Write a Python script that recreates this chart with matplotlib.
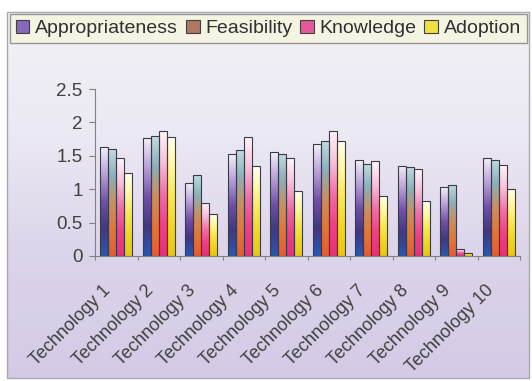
import numpy as np
import matplotlib.pyplot as plt
from matplotlib.colors import LinearSegmentedColormap
from matplotlib.patches import Rectangle, Patch
from matplotlib.ticker import FormatStrFormatter
import matplotlib.transforms as mtransforms

plt.rcParams['font.family'] = ['Liberation Sans', 'DejaVu Sans']

# Datos por tecnología
categorias = ["Technology 1", "Technology 2", "Technology 3", "Technology 4", "Technology 5",
              "Technology 6", "Technology 7", "Technology 8", "Technology 9", "Technology 10"]
series = ["Appropriateness", "Feasibility", "Knowledge", "Adoption"]
appropriateness = [1.63, 1.76, 1.09, 1.52, 1.55, 1.67, 1.43, 1.35, 1.03, 1.46]
feasibility = [1.60, 1.79, 1.21, 1.58, 1.53, 1.72, 1.37, 1.33, 1.07, 1.44]
knowledge = [1.46, 1.87, 0.80, 1.78, 1.46, 1.87, 1.42, 1.30, 0.10, 1.36]
adoption = [1.25, 1.78, 0.63, 1.34, 0.97, 1.72, 0.90, 0.82, 0.05, 1.01]
valores = [appropriateness, feasibility, knowledge, adoption]

# Degradados de cada serie (de arriba a abajo)
degradados = [
    ['#f4f0f8', '#b8a0d8', '#7050a8', '#403880', '#2858b0'],
    ['#c0dce0', '#8ab0b8', '#c89060', '#e07838', '#e85a30'],
    ['#fff4f8', '#f8c0d8', '#f070a8', '#f04088', '#e83078'],
    ['#fffff0', '#fff8a0', '#f8e850', '#f0d820', '#e8c810'],
]
colores_leyenda = ['#8868b8', '#b07860', '#e85898', '#f0e040']

fig = plt.figure(figsize=(5.32, 3.81), dpi=100)
fig.patch.set_facecolor('white')

# Fondo con degradado lavanda
fondo = fig.add_axes([0, 0, 1, 1], zorder=-1)
fondo.set_xlim(0, 532)
fondo.set_ylim(381, 0)
fondo.axis('off')
grad = np.linspace(0, 1, 256).reshape(-1, 1)
cmap_fondo = LinearSegmentedColormap.from_list('fondo', ['#f2f2f7', '#ebe9f3', '#dcd4ea', '#d4cae6'])
fondo.imshow(grad, cmap=cmap_fondo, extent=(7, 529, 378, 12), origin='upper', aspect='auto')
fondo.add_patch(Rectangle((7, 12), 522, 366, fill=False, edgecolor='#a8a8b0', linewidth=1))

ax = fig.add_axes([95 / 532, 125 / 381, 425 / 532, 167 / 381])
ax.patch.set_alpha(0)

n = len(categorias)
ancho = 0.19
x = np.arange(n) + 0.5
gbar = np.linspace(0, 1, 128).reshape(-1, 1)

for k, (vals, cols) in enumerate(zip(valores, degradados)):
    cmap = LinearSegmentedColormap.from_list(series[k], cols)
    pos = x + (k - 1.5) * ancho
    barras = ax.bar(pos, vals, ancho, facecolor='none', edgecolor='#3a3a4a', linewidth=0.8, zorder=3)
    for b in barras:
        x0 = b.get_x()
        h = b.get_height()
        im = ax.imshow(gbar, cmap=cmap, extent=(x0, x0 + ancho, 0, h), origin='upper',
                       aspect='auto', zorder=2)
        im.set_clip_path(b)

ax.set_xlim(0, n)
ax.set_ylim(0, 2.5)

# Ejes
ax.set_yticks(np.arange(0, 2.51, 0.5))
ax.yaxis.set_major_formatter(FormatStrFormatter('%g'))
ax.tick_params(axis='y', direction='out', length=4, color='#808080', labelsize=13.5,
               labelcolor='#404040', pad=5)
ax.set_xticks(np.arange(n + 1))
ax.set_xticklabels([])
ax.set_xticks(x, minor=True)
ax.set_xticklabels(categorias, minor=True, rotation=45, ha='right', rotation_mode='anchor',
                   fontsize=13, color='#404040')
ax.tick_params(axis='x', which='major', direction='out', length=3, color='#808080')
ax.tick_params(axis='x', which='minor', length=0, pad=4)
desplaza = mtransforms.ScaledTranslation(-14 / 100, -20 / 100, fig.dpi_scale_trans)
for etiqueta in ax.get_xticklabels(minor=True):
    etiqueta.set_transform(etiqueta.get_transform() + desplaza)

for lado in ['top', 'right']:
    ax.spines[lado].set_visible(False)
ax.spines['left'].set_color('#808080')
ax.spines['bottom'].set_color('#808080')

# Leyenda
manejadores = [Patch(facecolor=c, edgecolor='#404040', linewidth=0.8) for c in colores_leyenda]
leyenda = fig.legend(manejadores, series, loc='upper left',
                     bbox_to_anchor=(10 / 532, 1 - 14 / 381, 517 / 532, 0), mode='expand',
                     ncol=4, frameon=True, fancybox=False, edgecolor='#808080', facecolor='#f7f5dc',
                     handlelength=0.7, handleheight=0.7, handletextpad=0.3, columnspacing=0.5,
                     borderpad=0.3, borderaxespad=0, fontsize=14)
leyenda.get_frame().set_linewidth(1)
for t in leyenda.get_texts():
    t.set_color('#303030')

plt.savefig("out.png", dpi=100)
plt.close()
